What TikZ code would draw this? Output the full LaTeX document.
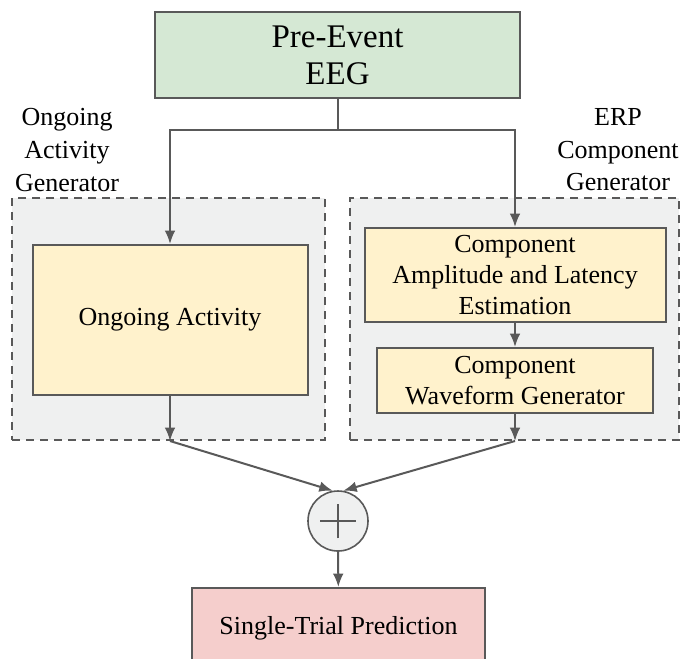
\documentclass[tikz,border=0pt]{standalone}
\usepackage{fontspec}
\setmainfont{Liberation Serif}
\usetikzlibrary{arrows.meta}

\definecolor{linegray}{RGB}{89,89,89}
\definecolor{eeggreen}{RGB}{213,232,212}
\definecolor{boxyellow}{RGB}{255,242,204}
\definecolor{predpink}{RGB}{245,206,204}
\definecolor{grpgray}{RGB}{239,240,240}

\tikzset{
    blockbox/.style={draw=linegray, line width=1.5pt, align=center, inner sep=0pt,
        font=\fontsize{19.5}{23.4}\selectfont},
    groupbox/.style={draw=linegray, fill=grpgray, line width=1.5pt, dash pattern=on 6pt off 4.5pt},
    arr/.style={draw=linegray, line width=1.5pt, -{Latex[length=10pt,width=8pt]}},
    conn/.style={draw=linegray, line width=1.5pt},
    sumnode/.style={circle, draw=linegray, fill=grpgray, line width=1.2pt, minimum size=45pt,
        path picture={\draw[linegray, line width=1.1pt]
            (path picture bounding box.center) +(-13.5pt,0) -- +(13.5pt,0)
            (path picture bounding box.center) +(0,-13pt) -- +(0,13pt);}}
}

\begin{document}
\begin{tikzpicture}[x=0.75pt, y=-0.75pt]
    \useasboundingbox (0,0) rectangle (681,658);

    % the two generators
    \node (grpL) at (168.5,319) [groupbox, minimum width=234.75pt, minimum height=181.5pt]{};
    \node (grpR) at (514.5,319) [groupbox, minimum width=246.75pt, minimum height=181.5pt]{};

    \node (lblL) at (67,150) [align=center, font=\fontsize{19.5}{24.4}\selectfont]{Ongoing\\Activity\\Generator};
    \node (lblR) at (618,150) [align=center, font=\fontsize{19.5}{24.4}\selectfont]{ERP\\Component\\Generator};

    \node (eeg) at (337.5,55) [blockbox, fill=eeggreen, minimum width=273.75pt, minimum height=64.5pt,
        font=\fontsize{24.75}{27.75}\selectfont]{Pre-Event\\EEG};
    \node (ongoing) at (170,320) [blockbox, fill=boxyellow, minimum width=206.25pt, minimum height=112.5pt]{Ongoing Activity};
    \node (amp) at (515,275) [blockbox, fill=boxyellow, minimum width=225.75pt, minimum height=70.5pt]{Component\\Amplitude and Latency\\Estimation};
    \node (wave) at (515,380.5) [blockbox, fill=boxyellow, minimum width=207pt, minimum height=48.75pt]{Component\\Waveform Generator};
    \node (sum) at (338,521) [sumnode]{};
    \node (pred) at (338.5,628) [blockbox, fill=predpink, minimum width=219.75pt, minimum height=60pt]{Single-Trial Prediction};

    \coordinate (split) at (eeg.south |- 0,130);
    \coordinate (outL) at (ongoing.south |- grpL.south);
    \coordinate (outR) at (wave.south |- grpR.south);

     \draw[conn] (eeg.south) -- (split);
     \draw[arr] (split) -| (ongoing.north);
     \draw[arr] (split) -| (amp.north);
     \draw[arr] (amp) -- (wave);

     \draw[arr] (ongoing.south) -- (outL);
     \draw[arr] (wave.south) -- (outR);
     \draw[arr] (outL) -- (sum.100);
     \draw[arr] (outR) -- (sum.80);

     \draw[arr] (sum) -- (pred);
\end{tikzpicture}
\end{document}
